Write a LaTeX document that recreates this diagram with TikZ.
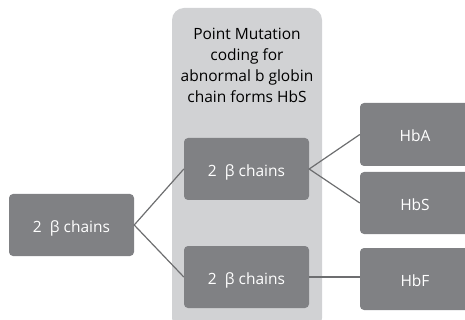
\documentclass[tikz,border=0pt]{standalone}
\usepackage{fontspec}
\setmainfont{Open Sans}
\definecolor{boxgray}{HTML}{808184}
\definecolor{bggray}{HTML}{D1D2D4}
\definecolor{linegray}{HTML}{6D6E70}
\begin{document}
\begin{tikzpicture}[x=1pt,y=-1pt,
  gbox/.style={fill=boxgray,rounded corners=4pt,text=white,inner sep=0pt,
    font=\fontsize{15.5}{18}\selectfont,text height=15pt,text depth=0pt,
    minimum width=125pt,minimum height=62pt},
  rbox/.style={gbox,minimum width=110pt,minimum height=63pt},
  conn/.style={draw=linegray,line width=1.2pt}]
\useasboundingbox (0,0) rectangle (465,320);
\begin{scope}
\clip (0,0) rectangle (465,320);
\fill[bggray,rounded corners=12pt] (172,8) rectangle (322,330);
\end{scope}
\node[align=center,font=\fontsize{15.5}{21}\selectfont,text=black] (title) at (247,65) {Point Mutation\\coding for\\abnormal b globin\\chain forms HbS};
\node[gbox] (left) at (71.5,225) {2\ \ β chains};
\node[gbox] (mt) at (246.5,169) {2\ \ β chains};
\node[gbox] (mb) at (246.5,277) {2\ \ β chains};
\node[rbox] (hba) at (415,134.5) {HbA};
\node[rbox,minimum height=62pt] (hbs) at (415,203) {HbS};
\node[rbox,minimum height=62pt] (hbf) at (415,279) {HbF};
\draw[conn] (mt.west) -- (left.east) -- (mb.west);
\draw[conn] (hba.west) -- (mt.east) -- (hbs.west);
\draw[conn] (mb.east) -- (mb.east -| hbf.west);
\end{tikzpicture}
\end{document}
